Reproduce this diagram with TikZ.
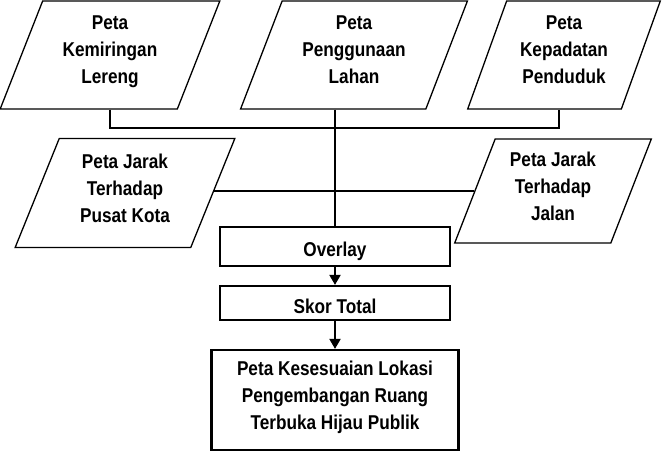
\documentclass[tikz,border=0pt]{standalone}
\usepackage{fontspec}
\setmainfont{Liberation Sans}[FakeStretch=0.86]
\usetikzlibrary{shapes.geometric,arrows.meta}
\begin{document}
\begin{tikzpicture}[x=1pt,y=-1pt]
\tikzstyle{every node}+=[inner sep=0pt,font=\bfseries\fontsize{20}{27}\selectfont,align=center]
\tikzstyle{peta}=[draw,line width=1.3pt,trapezium,trapezium left angle=69,trapezium right angle=111,trapezium stretches=true,minimum height=108pt,text depth=10pt]
\tikzstyle{kotak}=[draw,line width=2.2pt,rectangle,minimum width=230pt]
\tikzstyle{garis}=[line width=2pt]
\tikzstyle{panah}=[line width=2pt,-{Triangle[width=11pt,length=10pt]}]
\useasboundingbox (0,0) rectangle (664,460);
\node [peta,minimum width=220pt] (lereng) at (110,55) {Peta\\Kemiringan\\Lereng};
\node [peta,minimum width=227pt] (lahan) at (354,55) {Peta\\Penggunaan\\Lahan};
\node [peta,minimum width=193pt] (padat) at (564,55) {Peta\\Kepadatan\\Penduduk};
\node [peta,minimum width=220pt,minimum height=109pt] (kota) at (125,193) {Peta Jarak\\Terhadap\\Pusat Kota};
\node [peta,minimum width=197pt,minimum height=104pt] (jalan) at (553,191) {Peta Jarak\\Terhadap\\Jalan};
\node [kotak,minimum height=39pt,text height=24pt,text depth=4pt] (overlay) at (335,246.5) {Overlay};
\node [kotak,minimum height=34pt,text height=24pt,text depth=4pt] (skor) at (335,303) {Skor Total};
\node [kotak,minimum width=247pt,minimum height=100pt,text depth=10pt] (hasil) at (335,400) {Peta Kesesuaian Lokasi\\Pengembangan Ruang\\Terbuka Hijau Publik};
\coordinate (busL) at (110,128);
\coordinate (busR) at (559,128);
\draw [garis] (busL |- lereng.south) -- (busL) -- (busR) -- (busR |- padat.south);
\draw [garis,line width=2.6pt] (overlay.north |- lahan.south) -- (overlay.north);
\draw [garis] (jalan.west -| kota.east) -- (jalan.west);
\draw [panah] (overlay) -- (skor);
\draw [panah] (skor) -- (hasil);
\end{tikzpicture}
\end{document}
